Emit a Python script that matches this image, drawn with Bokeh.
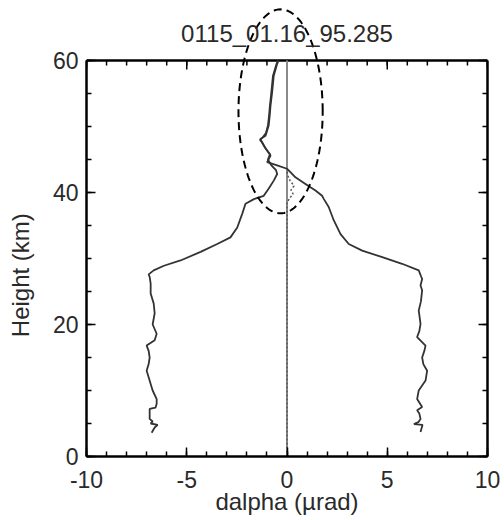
import numpy as np
from bokeh.plotting import figure
from bokeh.models import (FixedTicker, LinearAxis, PolyAnnotation, Label, Range1d,
                          CustomJSTickFormatter)
from bokeh.embed import file_html
from bokeh.resources import INLINE

# ---- data ----
left_h = [3.6, 4.4, 4.8, 5.0, 5.3, 5.7, 6.3, 7.2, 7.4, 8.0, 8.7, 10.0, 11.0, 12.0, 13.0,
          14.0, 15.0, 16.0, 16.8, 17.6, 18.6, 20.0, 21.7, 23.2, 24.7, 26.2, 27.2, 27.6, 28.2,
          28.9, 29.7, 31.0, 32.2, 33.2, 34.7, 36.8, 38.3, 39.0, 39.5, 40.6, 41.8, 42.8, 43.4,
          44.2, 45.0, 45.8, 46.6, 47.4, 48.0, 48.4, 49.0, 50.2, 51.5, 53.2, 55.2, 57.7, 59.5, 60.0]
left_x = [-6.75, -6.6, -6.45, -6.8, -6.7, -6.85, -6.85, -6.85, -6.56, -6.5, -6.5, -6.7, -6.8,
          -6.9, -7.0, -6.9, -6.85, -6.9, -7.0, -6.6, -6.5, -6.7, -6.6, -6.65, -6.8, -6.8, -6.85,
          -6.9, -6.65, -6.14, -5.31, -4.31, -3.48, -2.82, -2.48, -2.23, -2.07, -1.65, -1.16,
          -0.91, -0.66, -0.49, -0.55, -0.8, -0.95, -0.85, -1.05, -1.2, -1.35, -1.2, -1.05, -0.95,
          -0.9, -0.85, -0.78, -0.7, -0.52, -0.45]

right_h = [3.7, 4.8, 4.9, 5.2, 5.7, 6.5, 7.0, 7.5, 8.7, 10.0, 11.5, 13.0, 14.0, 15.0, 16.0,
           16.8, 18.1, 19.0, 20.1, 21.0, 22.1, 23.5, 25.2, 25.9, 26.9, 27.2, 28.2, 29.2, 30.2,
           31.2, 32.2, 33.7, 35.8, 37.8, 39.0, 39.5, 40.3, 41.3, 42.3, 43.1, 43.6, 44.1, 44.6,
           45.6, 46.4, 47.1, 48.1, 48.6, 49.3, 50.2, 51.7, 53.2, 55.2, 57.7, 59.5, 60.0]
right_x = [6.66, 6.76, 6.33, 6.55, 6.66, 6.6, 6.49, 6.74, 6.49, 6.57, 6.91, 6.99, 6.8, 6.74,
           6.85, 6.91, 6.49, 6.6, 6.66, 6.62, 6.57, 6.68, 6.74, 6.66, 6.74, 6.7, 6.57, 5.74,
           4.75, 3.75, 3.08, 2.67, 2.33, 2.08, 1.84, 1.75, 1.42, 0.92, 0.42, 0.17, 0.0, -0.49,
           -0.99, -0.82, -1.0, -1.16, -1.32, -1.07, -1.0, -0.91, -0.86, -0.82, -0.74, -0.66,
           -0.49, -0.42]

center_h = [0.0, 38.5, 39.2, 39.8, 40.4, 41.0, 41.8, 42.5, 43.2]
center_x = [0.0, 0.0, 0.15, 0.3, 0.2, 0.35, 0.15, 0.05, 0.0]

zero_h = [0.0, 60.0]
zero_x = [0.0, 0.0]

x_min, x_max = -10, 10
y_min, y_max = 0, 60
x_major = [-10, -5, 0, 5, 10]
x_minor = list(range(-10, 11))
y_major = [0, 20, 40, 60]
y_minor = list(range(0, 61, 5))

title_text = "0115_01.16_95.285"
xlabel = "dalpha (\u00b5rad)"
ylabel = "Height (km)"

# ellipse marker (annotation): centre, full width, full height
ell_cx, ell_cy, ell_w, ell_h = -0.32, 52.3, 4.2, 30.9

FONT = "Liberation Sans"
FS_TICK = "23px"
FS_LAB = "24px"
TXT = "#2a2a2a"
PX_PER_KM = 6.6           # vertical scale of the frame
FRAME_H = 456             # frame height in px (extends above 60 km for the ellipse)
Y_TOP = FRAME_H / PX_PER_KM
MAJ_LEN = 9 / PX_PER_KM   # tick lengths on the drawn top edge, in km
MIN_LEN = 5 / PX_PER_KM
YLAB_PAD = "\u00a0" * 14  # trailing no-break spaces: moves the y label down the frame

p = figure(width=504, height=520, output_backend="svg", toolbar_location=None,
           x_range=Range1d(x_min, x_max), y_range=Range1d(y_min, Y_TOP),
           x_axis_location=None, y_axis_location=None,
           min_border_left=86, min_border_right=17, min_border_top=0, min_border_bottom=64)
p.grid.visible = False
p.background_fill_color = "white"
p.border_fill_color = "white"
p.outline_line_color = None

bottom = LinearAxis(axis_label=xlabel, major_label_overrides={v: str(v) for v in x_major})
left = LinearAxis(axis_label=ylabel + YLAB_PAD, bounds=(y_min, y_max))
right = LinearAxis(bounds=(y_min, y_max), formatter=CustomJSTickFormatter(code="return ''"))
p.add_layout(bottom, "below")
p.add_layout(left, "left")
p.add_layout(right, "right")

bottom.ticker = FixedTicker(ticks=x_major, minor_ticks=x_minor)
for ax in [left, right]:
    ax.ticker = FixedTicker(ticks=y_major, minor_ticks=y_minor)

for ax in [bottom, left, right]:
    ax.axis_line_width = 2.5
    ax.axis_line_color = "black"
    ax.major_tick_in = 9
    ax.major_tick_out = 0
    ax.minor_tick_in = 5
    ax.minor_tick_out = 0
    ax.major_tick_line_width = 1.5
    ax.minor_tick_line_width = 1.5
    ax.major_tick_line_color = "black"
    ax.minor_tick_line_color = "black"
    ax.major_label_text_font = FONT
    ax.major_label_text_font_size = FS_TICK
    ax.major_label_text_color = TXT
    ax.axis_label_text_font = FONT
    ax.axis_label_text_font_size = FS_LAB
    ax.axis_label_text_font_style = "normal"
    ax.axis_label_text_color = TXT

right.major_label_standoff = 0
bottom.major_label_standoff = 14
bottom.axis_label_standoff = -3
left.major_label_standoff = 8
left.axis_label_standoff = 16
left.major_label_orientation = "horizontal"

# top edge of the box (at 60 km) with inward ticks
p.segment(x0=[x_min], y0=[y_max], x1=[x_max], y1=[y_max], line_color="black", line_width=2.5)
p.segment(x0=x_major, y0=[y_max] * len(x_major), x1=x_major,
          y1=[y_max - MAJ_LEN] * len(x_major), line_color="black", line_width=1.5)
p.segment(x0=x_minor, y0=[y_max] * len(x_minor), x1=x_minor,
          y1=[y_max - MIN_LEN] * len(x_minor), line_color="black", line_width=1.5)

# zero line and dotted centre trace
p.line(zero_x, zero_h, line_color="#8a8a8a", line_width=2)
p.line(center_x, center_h, line_color="#555555", line_width=1.5, line_dash="2 2")

# profiles
p.line(left_x, left_h, line_color="#333333", line_width=1.8)
p.line(right_x, right_h, line_color="#333333", line_width=1.8)

# dashed ellipse
t = np.linspace(0, 2 * np.pi, 200)
ex = ell_cx + ell_w / 2 * np.cos(t)
ey = ell_cy + ell_h / 2 * np.sin(t)
p.add_layout(PolyAnnotation(xs=list(ex), ys=list(ey), fill_alpha=0, line_color="black",
                            line_alpha=1, line_width=2, line_dash="8 5"))

# title (inside the extended frame)
p.add_layout(Label(x=0.0, y=64.1, text=title_text, text_align="center",
                   text_baseline="middle", text_font=FONT, text_font_size=FS_LAB,
                   text_color=TXT))

open("out.html", "w").write(file_html(p, INLINE))
